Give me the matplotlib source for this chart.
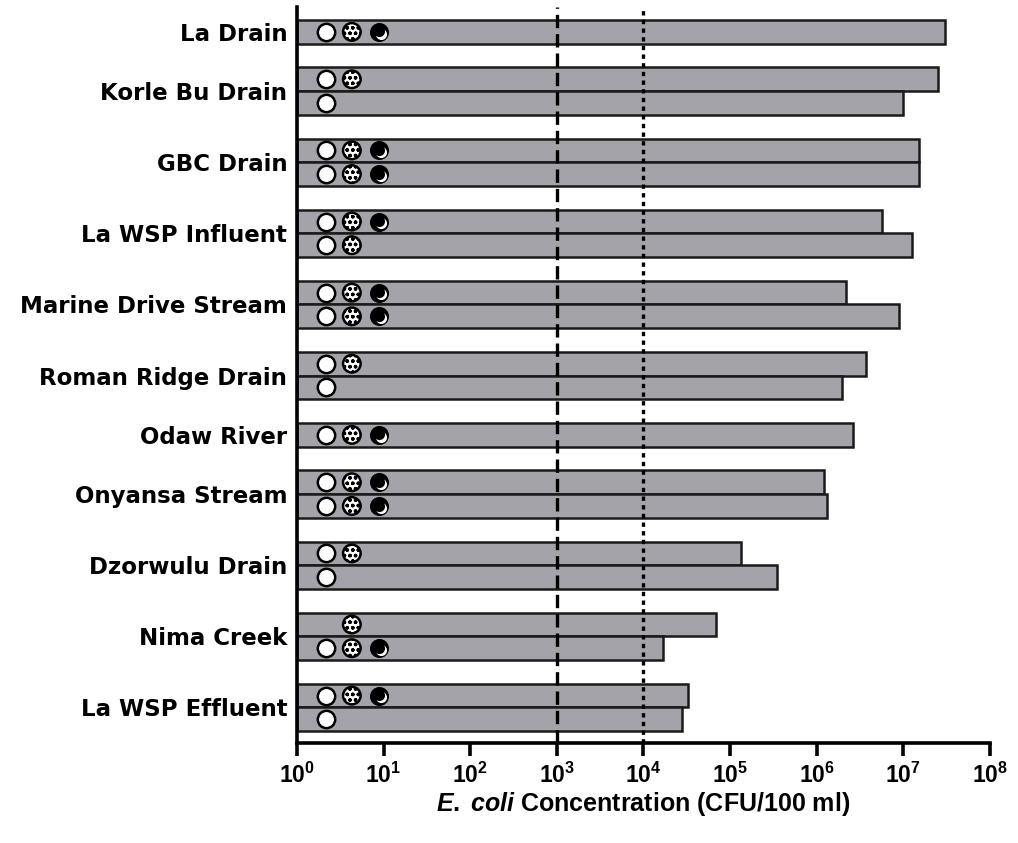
import matplotlib
matplotlib.use("Agg")
import matplotlib.pyplot as plt
import matplotlib.transforms as mtransforms

plt.rcParams['font.family'] = ['Liberation Sans', 'DejaVu Sans']
plt.rcParams['mathtext.fontset'] = 'custom'
plt.rcParams['mathtext.rm'] = 'Liberation Sans:bold'
plt.rcParams['mathtext.bf'] = 'Liberation Sans:bold'
plt.rcParams['mathtext.it'] = 'Liberation Sans:bold:italic'

# E. coli counts per site (CFU/100 ml); None = no second sample
sites = ["La Drain", "Korle Bu Drain", "GBC Drain", "La WSP Influent",
         "Marine Drive Stream", "Roman Ridge Drain", "Odaw River",
         "Onyansa Stream", "Dzorwulu Drain", "Nima Creek", "La WSP Effluent"]
first_vals = [3.0e7, 2.5e7, 1.5e7, 5.7e6, 2.2e6, 3.7e6, 2.6e6, 1.2e6, 1.35e5, 6.8e4, 3.3e4]
second_vals = [None, 1.0e7, 1.5e7, 1.25e7, 8.9e6, 1.95e6, None, 1.3e6, 3.5e5, 1.7e4, 2.8e4]
# pathogen markers per bar: W = open, H = hatched, B = filled
first_marks = ["WHB", "WH", "WHB", "WHB", "WHB", "WH", "WHB", "WHB", "WH", "H", "WHB"]
second_marks = [None, "W", "WHB", "WH", "WHB", "W", None, "WHB", "W", "WHB", "W"]
thresholds = [1e3, 1e4]

fig = plt.figure(figsize=(10.18, 8.43), dpi=100)
ax = fig.add_axes([0.2917, 0.1186, 0.6808, 0.8731])

bar_color = '#a4a3a9'
mark_x = {'W': 2.16, 'H': 4.3, 'B': 8.85}

def draw_marks(y, marks):
    for m in marks:
        x = mark_x[m]
        if m == 'W':
            ax.plot(x, y, 'o', ms=12.5, mfc='white', mec='black', mew=1.8, zorder=5)
        elif m == 'H':
            ax.scatter([x], [y], s=160, facecolor='white', edgecolor='black',
                       linewidth=1.8, hatch='ooo', zorder=5)
        else:
            ax.plot(x, y, 'o', ms=12.5, mfc='black', mec='black', mew=1.2, zorder=5)
            off = mtransforms.ScaledTranslation(1.2 / 72, -1.2 / 72, fig.dpi_scale_trans)
            ax.plot(x, y, 'o', ms=8, mfc='white', mec='none', zorder=6,
                    transform=ax.transData + off)
            off2 = mtransforms.ScaledTranslation(-0.3 / 72, 0.3 / 72, fig.dpi_scale_trans)
            ax.plot(x, y, 'o', ms=8, mfc='black', mec='none', zorder=7,
                    transform=ax.transData + off2)

label_pos = []
slot = 0
for i, site in enumerate(sites):
    rows = [(first_vals[i], first_marks[i])]
    if second_vals[i] is not None:
        rows.append((second_vals[i], second_marks[i]))
    ys = []
    for val, marks in rows:
        ax.barh(slot, val - 1, left=1, height=1.0, color=bar_color,
                edgecolor='#1a1a1a', linewidth=1.8, zorder=2)
        draw_marks(slot, marks)
        ys.append(slot)
        slot += 1
    label_pos.append(sum(ys) / len(ys))
    slot += 1

ax.axvline(thresholds[0], color='black', lw=2.4, ls=(0, (4, 1.8)), zorder=4)
ax.axvline(thresholds[1], color='black', lw=2.4, ls=(0, (1.3, 1.3)), zorder=4)

ax.set_xscale('log')
ax.set_xlim(1, 1e8)
ax.set_ylim(30.0, -1.05)
ax.set_xticks([10 ** k for k in range(9)])
ax.set_xticklabels([r'$\mathbf{10^{%d}}$' % k for k in range(9)], fontsize=16.5)
ax.minorticks_off()
ax.tick_params(axis='x', direction='out', length=9, width=2.6, pad=5)
ax.set_yticks(label_pos)
ax.set_yticklabels(sites, fontsize=16.5, fontweight='bold', family='DejaVu Sans')
ax.tick_params(axis='y', length=0, pad=7)

for side in ('top', 'right'):
    ax.spines[side].set_visible(False)
ax.spines['left'].set_linewidth(2.6)
ax.spines['bottom'].set_linewidth(2.6)

ax.set_xlabel(r'$\mathit{E.\;coli}$ Concentration (CFU/100 ml)',
              fontsize=18, fontweight='bold', labelpad=2)

fig.savefig('out.png', dpi=100)
